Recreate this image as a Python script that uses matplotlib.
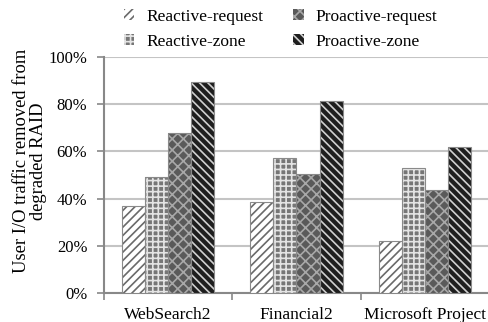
import matplotlib
matplotlib.use("Agg")
import matplotlib.pyplot as plt
import numpy as np
from matplotlib.ticker import FixedLocator, PercentFormatter

categories = ["WebSearch2", "Financial2", "Microsoft Project"]
series_names = ["Reactive-request", "Reactive-zone", "Proactive-request", "Proactive-zone"]
reactive_request = [37, 38.7, 22]
reactive_zone = [49, 57, 53]
proactive_request = [68, 50.5, 43.5]
proactive_zone = [89.5, 81.3, 62]
yticks = [0, 20, 40, 60, 80, 100]

values = [reactive_request, reactive_zone, proactive_request, proactive_zone]
styles = [
    dict(face="#ffffff", hatch="////", hcol="#6a6a6a"),
    dict(face="#767676", hatch="+++", hcol="#e4e4e4"),
    dict(face="#5a5a5a", hatch="xxx", hcol="#a8a8a8"),
    dict(face="#1e1e1e", hatch="\\\\\\\\", hcol="#d0d0d0"),
]

plt.rcParams["font.family"] = ["Liberation Serif", "DejaVu Serif"]
plt.rcParams["hatch.linewidth"] = 1.2

fig = plt.figure(figsize=(4.89, 3.22), dpi=100)
ax = fig.add_axes([104/489, 1-293/322, 1-104/489, (293-57)/322])

x = np.arange(len(categories))
w = 0.18
handles = []
for i, (vals, st) in enumerate(zip(values, styles)):
    pos = x + (i - 1.5) * w
    b = ax.bar(pos, vals, w, color=st["face"], edgecolor=st["hcol"], hatch=st["hatch"],
               linewidth=0, zorder=3, label=series_names[i])
    ax.bar(pos, vals, w, fill=False, edgecolor="#8a8a8a", linewidth=0.8, zorder=4)
    handles.append(b)

ax.set_xlim(-0.5, 2.5)
ax.set_ylim(0, 100)
ax.set_yticks(yticks)
ax.yaxis.set_major_formatter(PercentFormatter(decimals=0))
ax.grid(axis="y", color="#c4c4c4", linewidth=1.5, zorder=0)
ax.set_axisbelow(True)

ax.set_xticks(x)
ax.set_xticklabels(categories, fontsize=12.5)
ax.xaxis.set_minor_locator(FixedLocator([-0.5, 0.5, 1.5, 2.5]))
ax.tick_params(axis="x", which="major", length=0, pad=10)
ax.tick_params(axis="x", which="minor", length=5, width=1.2, color="#888888", direction="out")
ax.tick_params(axis="y", length=5, width=1.2, color="#888888", direction="out", labelsize=12, pad=7)

for s in ["top", "right"]:
    ax.spines[s].set_visible(False)
for s in ["left", "bottom"]:
    ax.spines[s].set_color("#888888")
    ax.spines[s].set_linewidth(1.5)

ax.set_ylabel("User I/O traffic removed from\ndegraded RAID", fontsize=13.3, linespacing=1.0)
ax.yaxis.label.set_va("center")
ax.yaxis.set_label_coords(-0.192, 0.56)

leg = fig.legend(handles=handles, ncol=2, loc="upper left", bbox_to_anchor=(124/489, 1-9/322),
                 frameon=False, fontsize=12.5, handlelength=0.6, handleheight=0.6,
                 handletextpad=0.7, columnspacing=1.7, labelspacing=0.5, borderaxespad=0,
                 borderpad=0)

fig.savefig("out.png", dpi=100)
